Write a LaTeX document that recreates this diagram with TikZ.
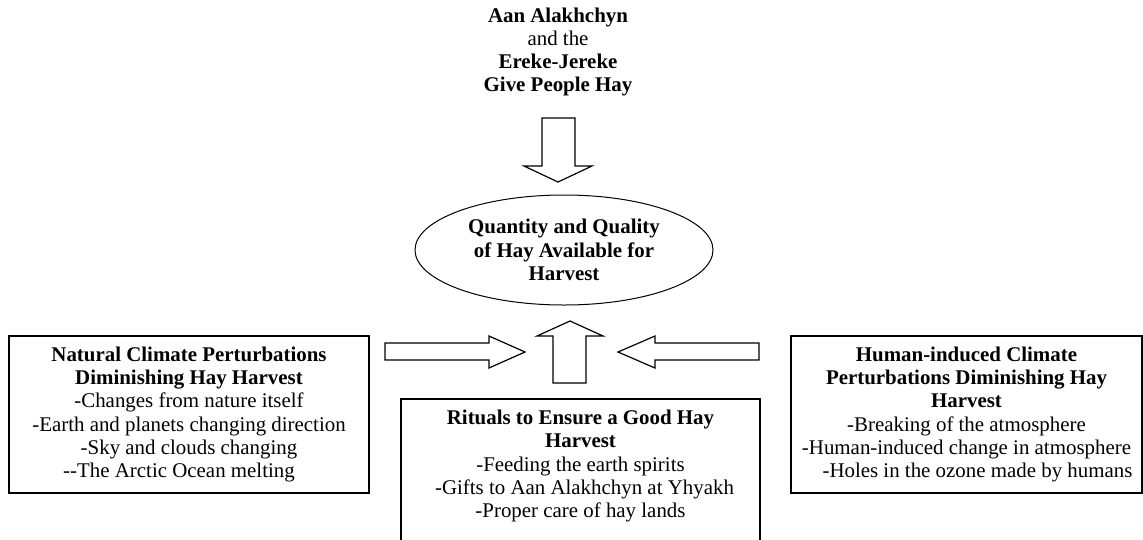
\documentclass[tikz,border=0pt]{standalone}
\usepackage{fontspec}
\setmainfont{Liberation Serif}
\usetikzlibrary{shapes.geometric}
\tikzset{
  txt/.style={align=center, inner sep=0pt, font=\fontsize{20.9}{23.3}\selectfont},
  boxnode/.style={draw, line width=1.4pt, rectangle, txt},
  blockarrow/.style={draw, line width=1.2pt, line join=miter, fill=white},
}
\begin{document}
\begin{tikzpicture}[x=1pt, y=-1pt]
\useasboundingbox (0,0) rectangle (1143,539);

% top text
\node[txt] (src) at (558,52) {\textbf{Aan Alakhchyn}\\and the\\\textbf{Ereke-Jereke}\\\textbf{Give People Hay}};

% ellipse
\node[draw, ellipse, line width=1pt, minimum width=298pt, minimum height=110pt, txt] (hay) at (564,250)
  {\textbf{Quantity and Quality}\\\textbf{of Hay Available for}\\\textbf{Harvest}};

% left box
\node[boxnode, minimum width=360pt, minimum height=157pt] (nat) at (189,414.5)
  {\textbf{Natural Climate Perturbations}\\\textbf{Diminishing Hay Harvest}\\-Changes from nature itself\\-Earth and planets changing direction\\-Sky and clouds changing\\{-}{-}The Arctic Ocean melting\hspace*{20pt}};

% right box
\node[boxnode, minimum width=351pt, minimum height=157pt] (hum) at (966.5,414.5)
  {\textbf{Human-induced Climate}\\\textbf{Perturbations Diminishing Hay}\\\textbf{Harvest}\\-Breaking of the atmosphere\\-Human-induced change in atmosphere\\\hspace*{22pt}-Holes in the ozone made by humans};

% bottom box (open at the bottom, cut by page edge)
\coordinate (ritBL) at (401,545);
\coordinate (ritTL) at (401,399);
\coordinate (ritTR) at (760,399);
\coordinate (ritBR) at (760,545);
\draw[line width=1.4pt] (ritBL) -- (ritTL) -- (ritTR) -- (ritBR);
\node[txt] (rit) at (580.5,466)
  {\textbf{Rituals to Ensure a Good Hay}\\\textbf{Harvest}\\-Feeding the earth spirits\\\hspace*{8pt}-Gifts to Aan Alakhchyn at Yhyakh\\-Proper care of hay lands};

% block arrows
\draw[blockarrow] (542,118) -- (575,118) -- (575,166) -- (592,166) -- (558,182) -- (524,166) -- (542,166) -- cycle;
\draw[blockarrow] (553,383) -- (586,383) -- (586,336) -- (603,336) -- (570,321) -- (537,336) -- (553,336) -- cycle;
\draw[blockarrow] (385,343) -- (489,343) -- (489,336) -- (525,352) -- (489,368) -- (489,360) -- (385,360) -- cycle;
\draw[blockarrow] (759,343) -- (655,343) -- (655,336) -- (618,352) -- (655,368) -- (655,360) -- (759,360) -- cycle;
\end{tikzpicture}
\end{document}
